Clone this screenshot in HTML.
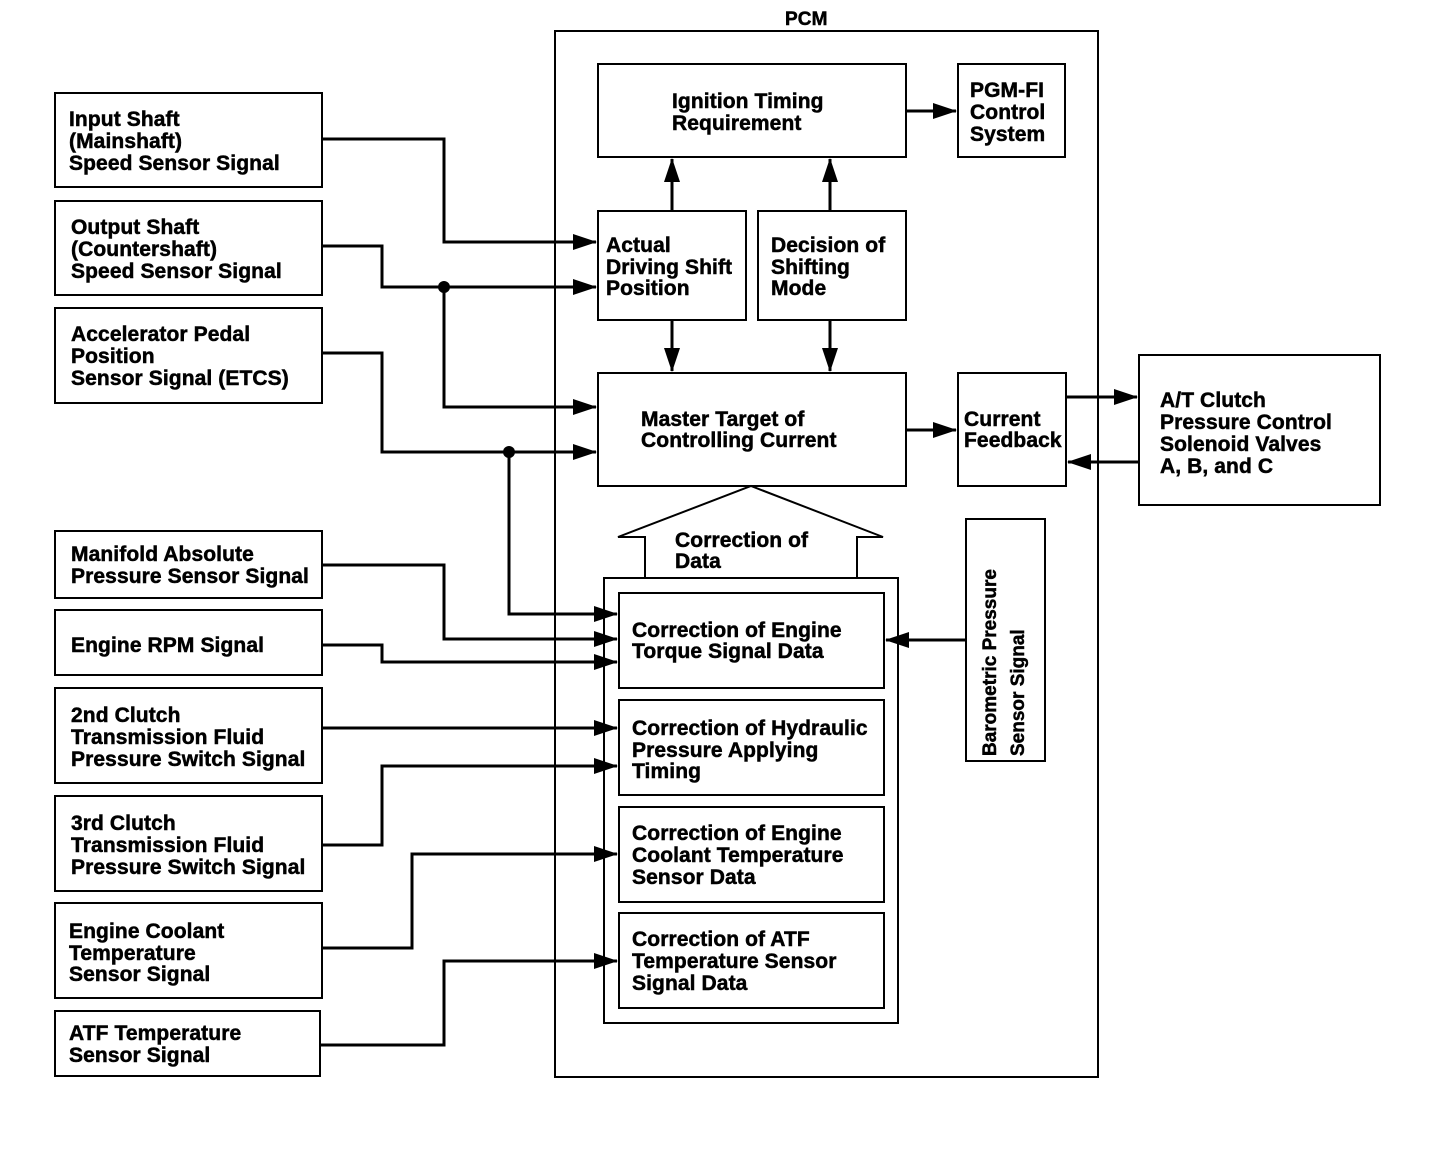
<!DOCTYPE html>
<html><head><meta charset="utf-8"><style>
html,body{margin:0;padding:0;background:#fff;}
svg text{font-family:"Liberation Sans",sans-serif;font-weight:bold;font-size:21px;fill:#000;stroke:#000;stroke-width:0.5px;letter-spacing:0.1px;}
</style></head><body>
<svg width="1456" height="1166" viewBox="0 0 1456 1166" xmlns="http://www.w3.org/2000/svg">
<defs>
<marker id="b" markerWidth="24" markerHeight="16" refX="23" refY="8" orient="auto" markerUnits="userSpaceOnUse"><path d="M0,0 L24,8 L0,16 z" fill="#000"/></marker></defs>
<g fill="none" stroke="#000" stroke-width="2">
<rect x="55" y="93" width="267" height="94"/>
<rect x="55" y="201" width="267" height="94"/>
<rect x="55" y="308" width="267" height="95"/>
<rect x="55" y="531" width="267" height="67"/>
<rect x="55" y="610" width="267" height="65"/>
<rect x="55" y="688" width="267" height="95"/>
<rect x="55" y="796" width="267" height="95"/>
<rect x="55" y="903" width="267" height="95"/>
<rect x="55" y="1011" width="265" height="65"/>
<rect x="555" y="31" width="543" height="1046"/>
<rect x="598" y="64" width="308" height="93"/>
<rect x="958" y="64" width="107" height="93"/>
<rect x="598" y="211" width="148" height="109"/>
<rect x="758" y="211" width="148" height="109"/>
<rect x="598" y="373" width="308" height="113"/>
<rect x="958" y="373" width="108" height="113"/>
<rect x="1139" y="355" width="241" height="150"/>
<path d="M645,578 L645,537 L618,537 L751,486 L883,537 L857,537 L857,578"/>
<rect x="604" y="578" width="294" height="445"/>
<rect x="619" y="593" width="265" height="95"/>
<rect x="619" y="700" width="265" height="95"/>
<rect x="619" y="807" width="265" height="95"/>
<rect x="619" y="913" width="265" height="95"/>
<rect x="966" y="519" width="79" height="242"/>
</g>
<g fill="none" stroke="#000" stroke-width="3">
<path d="M322,139 H444 V242 H596" marker-end="url(#b)"/>
<path d="M322,246 H382 V287 H596" marker-end="url(#b)"/>
<path d="M444,287 V407 H596" marker-end="url(#b)"/>
<path d="M322,353 H382 V452 H596" marker-end="url(#b)"/>
<path d="M509,452 V614 H617" marker-end="url(#b)"/>
<path d="M322,565 H444 V639 H617" marker-end="url(#b)"/>
<path d="M322,645 H382 V662 H617" marker-end="url(#b)"/>
<path d="M322,728 H617" marker-end="url(#b)"/>
<path d="M322,845 H382 V766 H617" marker-end="url(#b)"/>
<path d="M322,948 H412 V854 H617" marker-end="url(#b)"/>
<path d="M320,1045 H444 V961 H617" marker-end="url(#b)"/>
<path d="M966,640 H886" marker-end="url(#b)"/>
<path d="M906,111 H956" marker-end="url(#b)"/>
<path d="M672,211 V159" marker-end="url(#b)"/>
<path d="M830,211 V159" marker-end="url(#b)"/>
<path d="M672,320 V371" marker-end="url(#b)"/>
<path d="M830,320 V371" marker-end="url(#b)"/>
<path d="M906,430 H956" marker-end="url(#b)"/>
<path d="M1066,397 H1137" marker-end="url(#b)"/>
<path d="M1139,462 H1068" marker-end="url(#b)"/>
</g>
<circle cx="444" cy="287" r="6" fill="#000"/>
<circle cx="509" cy="452" r="6" fill="#000"/>
<text x="785" y="25" style="font-size:19px">PCM</text>
<text x="69" y="126">Input Shaft</text><text x="69" y="148">(Mainshaft)</text><text x="69" y="170">Speed Sensor Signal</text>
<text x="71" y="234">Output Shaft</text><text x="71" y="256">(Countershaft)</text><text x="71" y="278">Speed Sensor Signal</text>
<text x="71" y="341">Accelerator Pedal</text><text x="71" y="363">Position</text><text x="71" y="385">Sensor Signal (ETCS)</text>
<text x="71" y="561">Manifold Absolute</text><text x="71" y="583">Pressure Sensor Signal</text>
<text x="71" y="652">Engine RPM Signal</text>
<text x="71" y="722">2nd Clutch</text><text x="71" y="744">Transmission Fluid</text><text x="71" y="766">Pressure Switch Signal</text>
<text x="71" y="830">3rd Clutch</text><text x="71" y="852">Transmission Fluid</text><text x="71" y="874">Pressure Switch Signal</text>
<text x="69" y="938">Engine Coolant</text><text x="69" y="960">Temperature</text><text x="69" y="981">Sensor Signal</text>
<text x="69" y="1040">ATF Temperature</text><text x="69" y="1062">Sensor Signal</text>
<text x="672" y="108">Ignition Timing</text><text x="672" y="130">Requirement</text>
<text x="970" y="97">PGM-FI</text><text x="970" y="119">Control</text><text x="970" y="141">System</text>
<text x="606" y="252">Actual</text><text x="606" y="274">Driving Shift</text><text x="606" y="295">Position</text>
<text x="771" y="252">Decision of</text><text x="771" y="274">Shifting</text><text x="771" y="295">Mode</text>
<text x="641" y="426">Master Target of</text><text x="641" y="447">Controlling Current</text>
<text x="964" y="426">Current</text><text x="964" y="447">Feedback</text>
<text x="1160" y="407">A/T Clutch</text><text x="1160" y="429">Pressure Control</text><text x="1160" y="451">Solenoid Valves</text><text x="1160" y="473">A, B, and C</text>
<text x="675" y="547">Correction of</text><text x="675" y="568">Data</text>
<text x="632" y="637">Correction of Engine</text><text x="632" y="658">Torque Signal Data</text>
<text x="632" y="735">Correction of Hydraulic</text><text x="632" y="757">Pressure Applying</text><text x="632" y="778">Timing</text>
<text x="632" y="840">Correction of Engine</text><text x="632" y="862">Coolant Temperature</text><text x="632" y="884">Sensor Data</text>
<text x="632" y="946">Correction of ATF</text><text x="632" y="968">Temperature Sensor</text><text x="632" y="990">Signal Data</text>
<text transform="translate(996,756) rotate(-90)" style="font-size:19px;letter-spacing:0">Barometric Pressure</text>
<text transform="translate(1024,756) rotate(-90)" style="font-size:19px;letter-spacing:0">Sensor Signal</text>
</svg>
</body></html>
